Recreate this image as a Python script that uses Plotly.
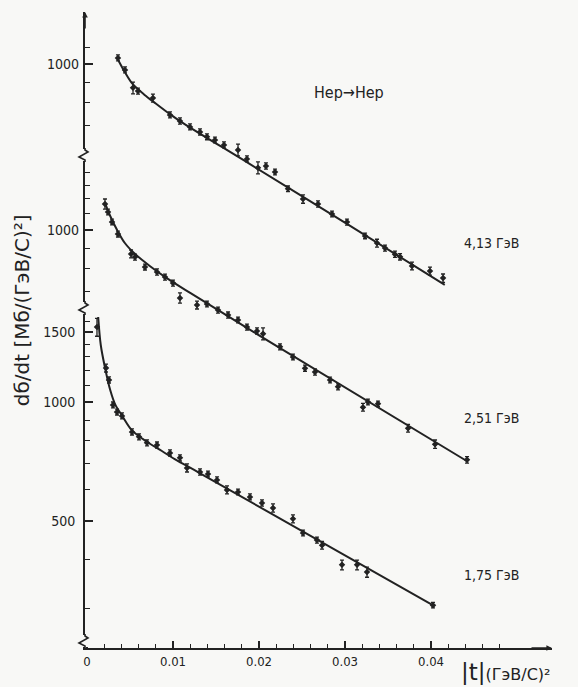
import plotly.graph_objects as go

# |t| in (GeV/c)^2, dsigma/dt in mb/(GeV/c)^2 -- He p -> He p elastic scattering

# 4.13 GeV
t_413 = [0.00360, 0.00442, 0.00535, 0.00593, 0.00767, 0.00965, 0.01081, 0.01198, 0.01314, 0.01395,
         0.01488, 0.01593, 0.01756, 0.01860, 0.01988, 0.02081, 0.02186, 0.02337, 0.02512, 0.02686,
         0.02849, 0.03023, 0.03233, 0.03372, 0.03465, 0.03581, 0.03640, 0.03779, 0.03988, 0.04140]
ds_413 = [1036, 966, 870, 854, 820, 743, 717, 693, 673, 654,
          642, 624, 606, 575, 546, 552, 533, 483, 455, 442,
          417, 398, 367, 352, 342, 330, 325, 308, 299, 287]
err_413 = [18, 17, 30, 15, 19, 13, 13, 12, 12, 11,
           11, 11, 21, 10, 19, 10, 9, 8, 11, 8,
           7, 7, 6, 8, 6, 6, 6, 7, 7, 7]
fit_t_413 = [0.0035, 0.0044, 0.0053, 0.0067, 0.0079, 0.0093, 0.0108, 0.0190, 0.0306, 0.0416]
fit_ds_413 = [1036, 954, 890, 835, 797, 756, 717, 557, 389, 276]

# 2.51 GeV
t_251 = [0.00209, 0.00244, 0.00291, 0.00360, 0.00512, 0.00558, 0.00674, 0.00814, 0.00907, 0.01000,
         0.01081, 0.01279, 0.01395, 0.01523, 0.01640, 0.01756, 0.01860, 0.01977, 0.02047, 0.02244,
         0.02395, 0.02535, 0.02651, 0.02826, 0.02919, 0.03209, 0.03267, 0.03384, 0.03733, 0.04047,
         0.04419]
ds_251 = [1164, 1111, 1048, 977, 870, 854, 806, 783, 760, 734,
          673, 646, 650, 627, 609, 592, 568, 555, 546, 506,
          477, 447, 437, 417, 401, 356, 367, 363, 315, 287,
          262]
err_251 = [34, 19, 18, 17, 20, 15, 14, 14, 13, 13,
           20, 15, 11, 11, 11, 10, 10, 10, 19, 9,
           8, 8, 8, 7, 7, 8, 6, 6, 7, 7,
           5]
fit_t_251 = [0.0021, 0.0027, 0.0035, 0.0044, 0.0056, 0.0073, 0.0091, 0.0120, 0.0224, 0.0443]
fit_ds_251 = [1170, 1085, 1000, 927, 869, 811, 760, 693, 503, 259]

# 1.75 GeV
t_175 = [0.00116, 0.00221, 0.00256, 0.00302, 0.00349, 0.00407, 0.00523, 0.00605, 0.00698, 0.00814,
         0.00965, 0.01081, 0.01163, 0.01314, 0.01407, 0.01512, 0.01628, 0.01756, 0.01895, 0.02035,
         0.02163, 0.02395, 0.02512, 0.02674, 0.02733, 0.02965, 0.03140, 0.03256, 0.04023]
ds_175 = [1548, 1219, 1137, 983, 943, 922, 840, 816, 788, 778,
          743, 722, 681, 665, 657, 635, 599, 592, 575, 555,
          539, 506, 466, 447, 434, 387, 387, 371, 306]
err_175 = [81, 28, 20, 17, 16, 16, 15, 14, 14, 14,
           13, 13, 16, 12, 11, 11, 14, 10, 10, 10,
           13, 12, 8, 8, 10, 11, 11, 11, 5]
fit_t_175 = [0.0013, 0.0016, 0.0021, 0.0027, 0.0033, 0.0041, 0.0052, 0.0070, 0.0085, 0.0102, 0.0131, 0.0402]
fit_ds_175 = [1641, 1394, 1219, 1072, 983, 922, 849, 792, 756, 717, 661, 306]

energy_labels = ["4,13 ГэВ", "2,51 ГэВ", "1,75 ГэВ"]
x_tick_vals = [0, 0.01, 0.02, 0.03, 0.04]
x_tick_text = ["0", "0.01", "0.02", "0.03", "0.04"]

INK = "#222222"
PAPER = "#f8f8f6"
FONT = "Liberation Sans Narrow, DejaVu Sans Condensed, Liberation Sans, Arial, sans-serif"
TITLE_FONT = "DejaVu Sans, Liberation Sans, sans-serif"

fig = go.Figure()


def add_series(t, ds, err, ft, fds, yaxis):
    fig.add_trace(go.Scatter(
        x=ft, y=fds, yaxis=yaxis, mode="lines",
        line=dict(color=INK, width=2, shape="spline", smoothing=0.9),
        showlegend=False, hoverinfo="skip"))
    fig.add_trace(go.Scatter(
        x=t, y=ds, yaxis=yaxis, mode="markers",
        marker=dict(symbol="diamond", size=5, color=INK),
        error_y=dict(type="data", array=err, color=INK, thickness=1.3, width=2),
        showlegend=False))


add_series(t_175, ds_175, err_175, fit_t_175, fit_ds_175, "y")
add_series(t_251, ds_251, err_251, fit_t_251, fit_ds_251, "y2")
add_series(t_413, ds_413, err_413, fit_t_413, fit_ds_413, "y3")

# the three curves share one log scale (395 px per decade) shifted against each other
common_y = dict(type="log", showgrid=False, zeroline=False, ticks="inside",
                tickcolor=INK, tickwidth=1.6, ticklen=8, tickmode="array",
                tickfont=dict(family=FONT, size=14, color=INK),
                ticklabelstandoff=5)
minor_style = dict(ticks="inside", ticklen=5, tickwidth=1.4, tickcolor=INK, tickmode="array")

fig.update_layout(
    width=578, height=687,
    margin=dict(l=85, r=26, t=12, b=39),
    paper_bgcolor=PAPER, plot_bgcolor=PAPER,
    font=dict(family=FONT, color=INK),
    xaxis=dict(
        range=[-0.000233, 0.05407], showgrid=False, zeroline=False,
        showline=True, linecolor=INK, linewidth=1.8,
        ticks="inside", ticklen=7, tickwidth=1.6, tickcolor=INK,
        tickmode="array", tickvals=x_tick_vals, ticktext=x_tick_text,
        tickfont=dict(family=FONT, size=13, color=INK),
        minor=dict(ticks="inside", ticklen=4, tickwidth=1.3, tickcolor=INK, tickmode="array",
                   tickvals=[round(0.002 * k, 3) for k in range(1, 26) if k % 5]),
        anchor="y"),
    yaxis=dict(**common_y, range=[2.3772, 3.9873],
               showline=True, linecolor=INK, linewidth=1.8, anchor="x",
               tickvals=[500, 1000, 1500], ticktext=["500", "1000", "1500"],
               minor=dict(**minor_style, tickvals=[300, 400, 600, 700, 800, 900,
                                                   1100, 1200, 1300, 1400, 1600])),
    yaxis2=dict(**common_y, range=[1.9418, 3.5519], overlaying="y", anchor="x",
                showline=False, tickvals=[1000], ticktext=["1000"],
                minor=dict(**minor_style, tickvals=[700, 800, 900, 1100, 1200, 1300, 1400])),
    yaxis3=dict(**common_y, range=[1.5215, 3.1316], overlaying="y", anchor="x",
                showline=False, tickvals=[1000], ticktext=["1000"],
                minor=dict(**minor_style, tickvals=[700, 800, 900, 1100])),
)

# axis breaks between the shifted scales
for yb in [0.7752, 0.5346, 0.011]:
    fig.add_shape(type="rect", xref="paper", yref="paper", xsizemode="pixel", ysizemode="pixel",
                  xanchor=0, yanchor=yb, x0=-3, x1=3, y0=-6, y1=6,
                  fillcolor=PAPER, line=dict(width=0), layer="above")
    fig.add_shape(type="path", xref="paper", yref="paper", xsizemode="pixel", ysizemode="pixel",
                  xanchor=0, yanchor=yb, path="M0,7 L0,5 L3,3 L-6,-2 L0,-5 L0,-7",
                  line=dict(color=INK, width=1.6), layer="above")

# axis arrows
fig.add_annotation(x=0, y=1, xref="paper", yref="paper", ax=0, ay=18, text="",
                   showarrow=True, arrowhead=2, arrowsize=0.7, arrowwidth=1.6, arrowcolor=INK)
fig.add_annotation(x=1, y=0, xref="paper", yref="paper", ax=-22, ay=0, text="",
                   showarrow=True, arrowhead=2, arrowsize=0.7, arrowwidth=1.6, arrowcolor=INK)

# axis titles
fig.add_annotation(x=-0.135, y=0.531, xref="paper", yref="paper", textangle=-90,
                   text="dб/dt [Мб/(ГэВ/С)²]", showarrow=False,
                   font=dict(family=TITLE_FONT, size=20, color=INK), xanchor="center", yanchor="middle")
fig.add_annotation(x=0.8, y=-0.038, xref="paper", yref="paper",
                   text="<span style='font-size:23px'>|t|</span>(ГэВ/С)²", showarrow=False,
                   font=dict(family=TITLE_FONT, size=16, color=INK), xanchor="left", yanchor="middle")

# reaction and beam energies
fig.add_annotation(x=0.565, y=0.874, xref="paper", yref="paper", text="Hep→Hep", showarrow=False,
                   font=dict(family=FONT, size=16, color=INK), xanchor="center", yanchor="middle")
for lbl, yp in zip(energy_labels, [0.637, 0.362, 0.115]):
    fig.add_annotation(x=0.807, y=yp, xref="paper", yref="paper", text=lbl, showarrow=False,
                       font=dict(family=FONT, size=14, color=INK), xanchor="left", yanchor="middle")

fig.write_html("out.html")
